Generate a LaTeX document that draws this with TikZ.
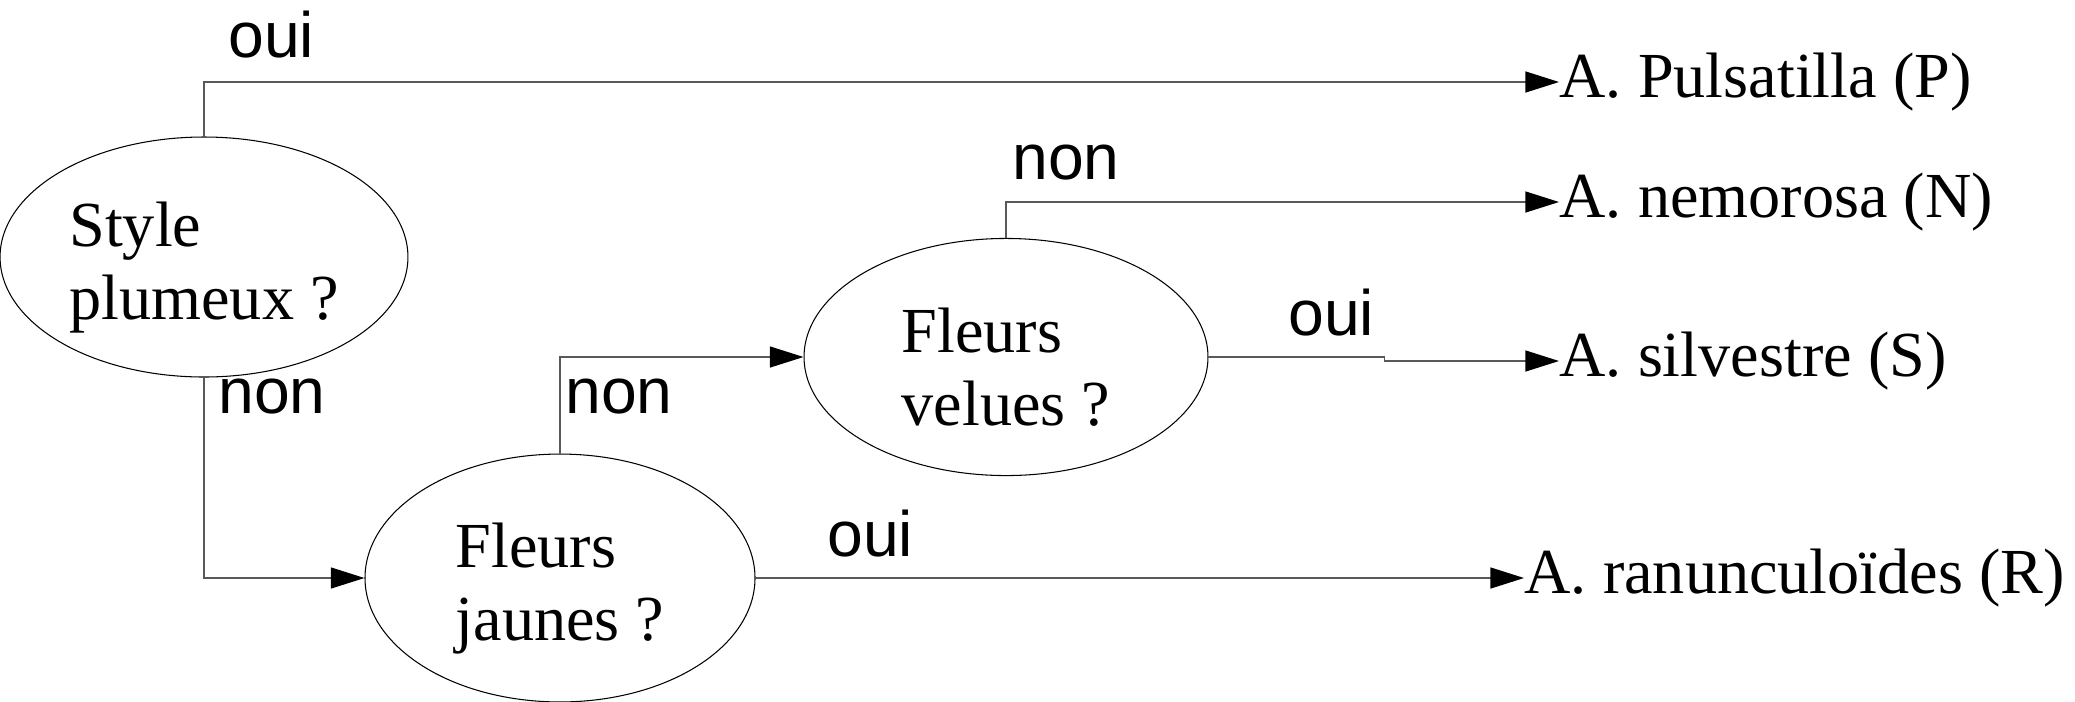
\documentclass[tikz,border=0pt]{standalone}
\usepackage{fontspec}
\setmainfont{Liberation Serif}
\setsansfont{Liberation Sans}
\usetikzlibrary{arrows.meta,shapes.geometric}
\begin{document}
\begin{tikzpicture}[x=0.38pt,y=-0.38pt,
  question/.style={draw,ellipse,line width=0.4pt,inner sep=0pt},
  qtext/.style={inner sep=0pt,align=left,font=\fontsize{24.4}{27.7}\selectfont},
  espece/.style={anchor=west,inner sep=0pt,font=\fontsize{24.4}{27.7}\selectfont},
  reponse/.style={anchor=base west,inner sep=0pt,font=\sffamily\fontsize{24.4}{27.7}\selectfont},
  link/.style={draw=black!65,line width=0.5pt,-{Triangle[length=12.8pt,width=8pt,color=black]}}]
\useasboundingbox (0,0) rectangle (2075,701);
\node[question,minimum width=155pt,minimum height=91.2pt] (style) at (204,257) {};
\node[question,minimum width=148.2pt,minimum height=94.2pt] (jaunes) at (560,578) {};
\node[question,minimum width=153.5pt,minimum height=90.1pt] (velues) at (1006,357) {};
\node[qtext] (styleT) at ([yshift=-4pt]style.center) {Style\\plumeux ?};
\node[qtext] (jaunesT) at ([yshift=-4pt]jaunes.center) {Fleurs\\jaunes ?};
\node[qtext] (veluesT) at ([yshift=-4pt]velues.center) {Fleurs\\velues ?};
\node[espece] (puls) at (1559,82) {A. Pulsatilla (P)};
\node[espece] (nemo) at (1559,202) {A. nemorosa (N)};
\node[espece] (silv) at (1559,361) {A. silvestre (S)};
\node[espece] (ranun) at (1524,578) {A. ranunculoïdes (R)};
\node[reponse] (oui1) at (228,57) {oui};
\node[reponse] (non1) at (218,413) {non};
\node[reponse] (non2) at (565,413) {non};
\node[reponse] (oui2) at (827,556) {oui};
\node[reponse] (non3) at (1012,179) {non};
\node[reponse] (oui3) at (1288,335) {oui};
\draw[link] (style.north) |- (puls.west);
\draw[link] (style.south) |- (jaunes.west);
\draw[link] (jaunes.north) |- (velues.west);
\draw[link] (jaunes.east) -- (ranun.west);
\draw[link] (velues.north) |- (nemo.west);
\draw[link] (velues.east) -- ++(176,0) |- (silv.west);
\end{tikzpicture}
\end{document}
